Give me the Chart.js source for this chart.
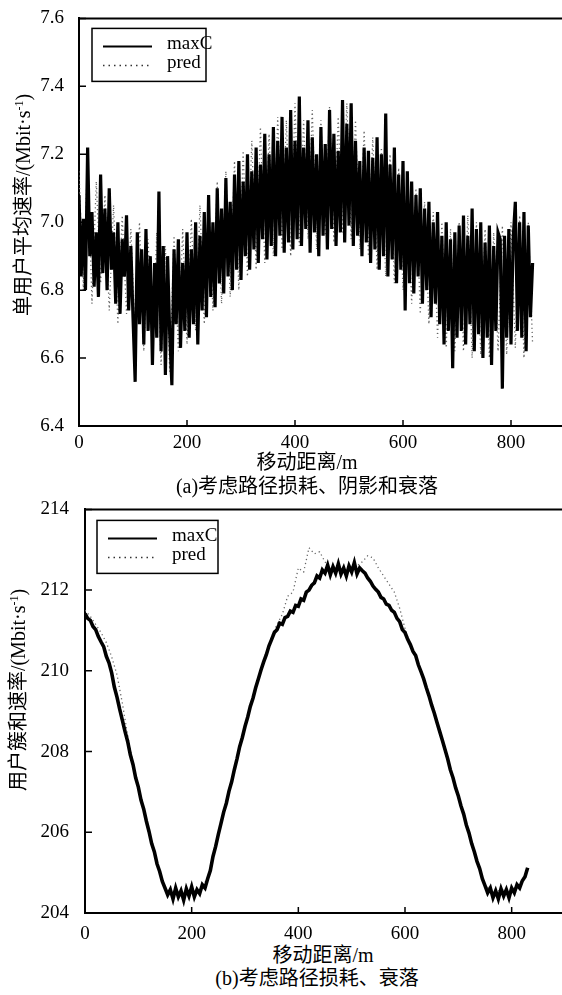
<!DOCTYPE html>
<html>
<head>
<meta charset="utf-8">
<script src="https://cdn.jsdelivr.net/npm/chart.js@4"></script>
<style>
  html, body { margin: 0; padding: 0; background: #fff; }
  body { width: 562px; height: 995px; overflow: hidden; position: relative;
         font-family: "Liberation Serif", "Noto Sans CJK SC", serif; color: #000; }
  canvas { position: absolute; left: 0; }
  .txt { position: absolute; white-space: nowrap; font-size: 20px; line-height: 1;
         transform: translate(-50%, -50%); }
  .ylab { transform: translate(-50%, -50%) rotate(-90deg); }
  sup { font-size: 12px; vertical-align: 7px; line-height: 0; }
</style>
</head>
<body>
<canvas id="chartA" width="570" height="452" style="top:0px"></canvas>
<canvas id="chartB" width="570" height="449" style="top:490px"></canvas>

<div class="txt ylab" style="left:23px; top:205px">单用户平均速率/(Mbit·s<sup>-1</sup>)</div>
<div class="txt" style="left:307px; top:462px">移动距离/m</div>
<div class="txt" style="left:307px; top:486px">(a)考虑路径损耗、阴影和衰落</div>

<div class="txt ylab" style="left:18px; top:690px">用户簇和速率/(Mbit·s<sup>-1</sup>)</div>
<div class="txt" style="left:323px; top:955px">移动距离/m</div>
<div class="txt" style="left:317px; top:978px">(b)考虑路径损耗、衰落</div>

<script>
// ---------- data (a): 考虑路径损耗、阴影和衰落 ----------
const stepA = 4;      // m between maxC samples
const stepPredA = 8;  // m between pred samples
const maxC_a = [
  7.08,6.84,7.01,6.80,7.22,6.90,7.03,6.81,6.97,6.78,7.14,6.85,7.04,
  6.80,7.10,6.86,6.97,6.76,7.00,6.73,6.95,6.84,7.02,6.74,6.93,6.72,
  6.53,6.97,6.70,6.92,6.64,6.98,6.68,6.90,6.58,6.88,6.66,7.09,
  6.62,6.93,6.55,6.90,6.67,6.52,6.92,6.70,6.95,6.63,6.88,6.68,6.97,
  6.66,6.92,6.70,7.00,6.64,6.96,6.74,7.03,6.72,7.08,6.78,7.00,6.75,7.10,6.82,7.04,6.79,7.13,6.84,7.06,6.80,7.14,6.86,7.18,6.83,
  7.12,6.90,7.20,6.86,7.15,6.92,7.22,6.88,7.17,6.95,7.26,6.89,7.20,6.93,7.28,6.90,7.24,6.96,7.31,6.91,7.22,6.94,7.33,6.92,7.24,
  6.95,7.37,6.93,7.22,6.98,7.30,6.91,7.25,6.97,7.20,6.90,7.28,6.96,7.23,6.92,7.33,6.98,7.26,6.93,7.21,6.97,7.36,6.94,7.29,6.99,7.35,6.93,7.24,6.96,7.18,
  6.90,7.22,6.94,7.21,6.88,7.19,6.92,7.25,6.86,7.20,6.90,7.32,6.84,7.17,6.89,7.22,6.82,7.14,6.86,7.18,
  6.74,7.15,6.82,7.12,6.79,7.08,6.84,7.10,6.76,7.04,6.80,7.06,6.72,7.00,6.76,7.03,6.70,6.96,6.64,7.00,6.68,6.95,6.57,6.97,6.66,
  6.99,6.68,7.02,6.64,6.96,6.70,7.04,6.62,6.98,6.67,7.00,6.60,6.94,6.66,6.99,6.58,6.93,6.68,6.97,6.95,6.51,6.96,6.66,6.98,6.64,
  6.95,7.06,6.68,7.00,6.66,7.03,6.62,6.99,6.72,6.88
];
const pred_a = [
  7.15,6.80,7.20,6.76,7.12,6.82,7.08,6.74,7.05,6.70,
  7.02,6.73,6.98,6.66,7.00,6.62,6.95,6.60,6.97,6.58,
  6.93,6.56,6.96,6.62,6.98,6.64,7.01,6.68,7.05,6.70,
  7.08,6.74,7.12,6.76,7.15,6.78,7.18,6.80,7.21,6.84,
  7.24,6.86,7.28,6.88,7.26,6.90,7.31,6.92,7.30,6.90,
  7.35,6.93,7.30,6.95,7.33,6.92,7.30,6.96,7.34,6.94,
  7.31,6.97,7.35,6.95,7.30,6.92,7.27,6.90,7.25,6.86,
  7.22,6.84,7.20,6.82,7.16,6.80,7.14,6.76,7.10,6.73,
  7.06,6.70,7.03,6.66,7.00,6.63,6.98,6.62,7.00,6.62,
  7.02,6.60,7.00,6.61,6.98,6.60,6.97,6.62,6.99,6.61,
  7.00,6.63,7.02,6.60,7.00,6.64
];

// ---------- data (b): 考虑路径损耗、衰落 ----------
const stepB = 5;
const stepPredB = 10;
const maxC_b = [
  211.42,211.30,211.25,211.10,211.02,210.85,210.72,210.60,210.36,210.20,
  209.95,209.60,209.35,209.05,208.78,208.50,208.25,207.92,207.68,207.35,
  207.12,206.80,206.58,206.28,206.02,205.72,205.52,205.22,205.03,204.78,
  204.62,204.45,204.58,204.35,204.62,204.40,204.55,204.32,204.60,204.42,
  204.65,204.40,204.58,204.48,204.70,204.62,204.85,205.05,205.40,205.65,
  205.95,206.22,206.50,206.72,207.02,207.25,207.55,207.82,208.12,208.35,
  208.62,208.85,209.12,209.32,209.58,209.80,210.02,210.22,210.40,210.62,
  210.78,210.95,211.02,211.18,211.15,211.32,211.35,211.48,211.45,211.62,
  211.60,211.78,211.75,211.95,212.00,212.12,212.18,212.35,212.30,212.50,
  212.42,212.62,212.38,212.58,212.42,212.65,212.40,212.55,212.35,212.60,
  212.45,212.68,212.40,212.55,212.48,212.42,212.30,212.22,212.10,212.02,
  211.95,211.82,211.78,211.65,211.62,211.50,211.45,211.30,211.22,211.02,
  210.95,210.78,210.65,210.48,210.38,210.15,209.98,209.80,209.58,209.38,
  209.15,208.95,208.72,208.50,208.28,208.05,207.82,207.55,207.35,207.10,
  206.90,206.65,206.45,206.18,205.98,205.72,205.52,205.28,205.10,204.85,
  204.68,204.50,204.62,204.38,204.55,204.35,204.60,204.42,204.58,204.38,
  204.62,204.50,204.70,204.62,204.80,204.90,205.12
];
const pred_b = [
  211.50,211.35,211.15,210.95,210.70,210.35,209.90,209.20,208.40,207.70,
  207.10,206.55,206.00,205.50,205.00,204.60,204.50,204.55,204.48,204.52,
  204.55,204.52,204.65,204.88,205.42,205.98,206.52,207.05,207.58,208.15,
  208.65,209.15,209.60,210.05,210.45,210.85,211.15,211.40,211.85,211.95,
  212.55,212.45,213.05,212.90,212.95,212.70,212.55,212.50,212.52,212.48,
  212.55,212.60,212.70,212.85,212.80,212.55,212.35,212.15,211.95,211.55,
  211.05,210.65,210.35,209.98,209.58,209.15,208.72,208.28,207.82,207.35,
  206.90,206.45,205.98,205.52,205.10,204.68,204.60,204.52,204.58,204.55,
  204.58,204.65,204.82,205.10
];

const xTicks = [0, 200, 400, 600, 800];
const yTicksA = [6.4, 6.6, 6.8, 7.0, 7.2, 7.4, 7.6];
const yTicksB = [204, 206, 208, 210, 212, 214];
const seriesNames = ["maxC", "pred"];

function toPoints(values, step) {
  return values.map((v, i) => ({ x: i * step, y: v }));
}

const tickFont = { family: "Liberation Serif", size: 19 };

// frame: top border, inward ticks, legend box
const framePlugin = {
  id: "frame",
  afterDraw(chart, args, opts) {
    const ctx = chart.ctx;
    const a = chart.chartArea;
    const xs = chart.scales.x, ys = chart.scales.y;
    ctx.save();
    ctx.strokeStyle = "#000";
    ctx.lineWidth = 2;
    ctx.beginPath();
    ctx.moveTo(a.left - 1, a.top);
    ctx.lineTo(a.right, a.top);
    ctx.lineTo(a.right, a.bottom);
    ctx.stroke();
    // inward ticks
    ctx.lineWidth = 1.5;
    ctx.beginPath();
    xs.ticks.forEach(t => {
      const px = xs.getPixelForValue(t.value);
      ctx.moveTo(px, a.bottom);
      ctx.lineTo(px, a.bottom - 6);
    });
    ys.ticks.forEach(t => {
      const py = ys.getPixelForValue(t.value);
      ctx.moveTo(a.left, py);
      ctx.lineTo(a.left + 7, py);
    });
    ctx.stroke();
    // legend
    const L = opts.legend;
    const bx = a.left + L.dx, by = a.top + L.dy;
    ctx.fillStyle = "#fff";
    ctx.fillRect(bx, by, L.w, L.h);
    ctx.lineWidth = 1.5;
    ctx.strokeRect(bx, by, L.w, L.h);
    ctx.font = "19px 'Liberation Serif'";
    ctx.fillStyle = "#000";
    ctx.textBaseline = "middle";
    ctx.beginPath();
    ctx.lineWidth = 2;
    ctx.moveTo(bx + 11, by + 18);
    ctx.lineTo(bx + 60, by + 18);
    ctx.stroke();
    ctx.setLineDash([1.5, 4]);
    ctx.lineWidth = 1.5;
    ctx.strokeStyle = "#333";
    ctx.beginPath();
    ctx.moveTo(bx + 11, by + 37);
    ctx.lineTo(bx + 60, by + 37);
    ctx.stroke();
    ctx.setLineDash([]);
    ctx.fillText(seriesNames[0], bx + L.tx, by + 16);
    ctx.fillText(seriesNames[1], bx + L.tx, by + 35);
    ctx.restore();
  }
};

function makeChart(id, cfg) {
  return new Chart(document.getElementById(id), {
    type: "line",
    data: {
      datasets: [
        {
          label: seriesNames[0],
          data: toPoints(cfg.maxC, cfg.step),
          borderColor: "#000",
          borderWidth: cfg.lineW,
          borderJoinStyle: "miter",
          pointRadius: 0,
          tension: 0
        },
        {
          label: seriesNames[1],
          data: toPoints(cfg.pred, cfg.predStep),
          borderColor: "#666",
          borderWidth: 1.3,
          borderDash: [1.2, 3],
          pointRadius: 0,
          tension: 0
        }
      ]
    },
    options: {
      responsive: false,
      animation: false,
      events: [],
      layout: { padding: { top: cfg.top, right: 5, left: 0, bottom: 0 } },
      plugins: {
        legend: { display: false },
        tooltip: { enabled: false },
        frame: { legend: cfg.legend }
      },
      scales: {
        x: {
          type: "linear",
          min: 0,
          max: 900,
          grid: { display: false },
          border: { display: true, color: "#000", width: 2 },
          afterBuildTicks(s) { s.ticks = xTicks.map(v => ({ value: v })); },
          afterFit(s) { s.height = 26; },
          ticks: { color: "#000", font: tickFont, padding: cfg.xpad, maxRotation: 0 }
        },
        y: {
          min: cfg.yTicks[0],
          max: cfg.yTicks[cfg.yTicks.length - 1],
          grid: { display: false },
          border: { display: true, color: "#000", width: 2 },
          afterBuildTicks(s) { s.ticks = cfg.yTicks.map(v => ({ value: v })); },
          afterFit(s) { s.width = cfg.yw; },
          ticks: {
            color: "#000", font: tickFont, padding: cfg.ypad,
            callback: v => cfg.fmt(v)
          }
        }
      }
    },
    plugins: [framePlugin]
  });
}

makeChart("chartA", {
  maxC: maxC_a, pred: pred_a, step: stepA, predStep: stepPredA,
  lineW: 3.2, top: 18, yw: 79, ypad: 7, xpad: -2, yTicks: yTicksA,
  fmt: v => v.toFixed(1),
  legend: { dx: 13, dy: 10, w: 114, h: 53, tx: 75 }
});

makeChart("chartB", {
  maxC: maxC_b, pred: pred_b, step: stepB, predStep: stepPredB,
  lineW: 3.6, top: 17, yw: 85, ypad: 8, xpad: 2, yTicks: yTicksB,
  fmt: v => String(Math.round(v)),
  legend: { dx: 12, dy: 11, w: 121, h: 53, tx: 75 }
});
</script>
</body>
</html>
